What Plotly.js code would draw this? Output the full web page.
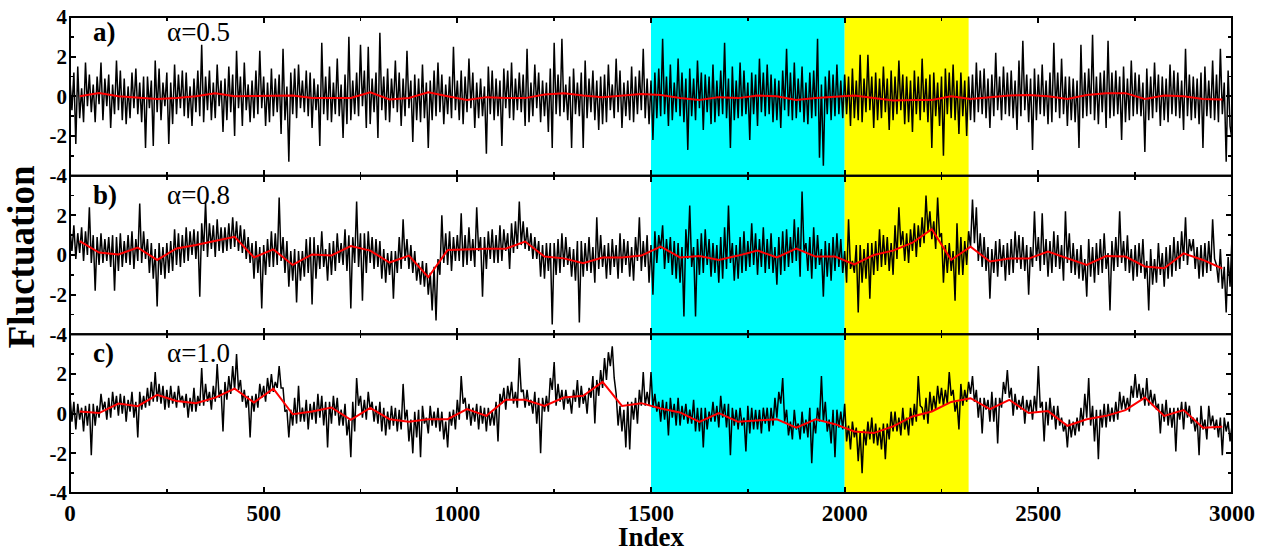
<!DOCTYPE html>
<html>
<head>
<meta charset="utf-8">
<script src="https://cdn.plot.ly/plotly-3.0.1.min.js"></script>
<style>html,body{margin:0;padding:0;background:#fff;}#chart{width:1269px;height:550px;}</style>
</head>
<body>
<div id="chart"></div>
<script>
// sampling step of the fluctuation series (index units)
const STEP = 5;
// spacing / first centre of the running-mean (red) curve
const MEAN_STEP = 50;
const MEAN_START = 25;

// panel a) alpha = 0.5 : one value per STEP, 20 values per row = 100 index units
const seriesA = [
 0.8,-0.7,1.2,-2.4,1.5,-1.1,0.4,-1.3,1.7,-0.5,1.1,-0.8,0.6,-1.3,1.0,-0.4,1.7,-1.2,0.9,-0.5,
 1.1,-1.6,0.6,-0.9,1.8,-0.7,1.3,-1.2,0.9,-1.4,0.5,-1.1,1.2,-0.6,1.4,-0.9,0.7,-1.3,1.0,-2.6,
 1.0,-0.6,0.8,-2.5,1.8,-0.8,1.4,-1.2,0.7,-0.5,1.2,-2.4,0.7,-1.4,1.6,-0.9,1.1,-0.6,1.3,-1.0,
 1.2,-1.1,0.5,-1.5,0.9,-0.8,1.3,-1.0,2.6,-1.3,1.0,-0.7,1.3,-1.2,0.7,-1.1,1.6,-0.5,0.8,-1.8,
 0.9,-1.2,1.5,-0.8,1.1,-2.0,2.3,-0.6,1.0,-1.5,1.7,-0.7,0.6,-1.3,0.8,-1.1,1.3,-0.9,2.3,-0.6,
 1.0,-1.5,0.7,-1.3,1.4,-1.0,0.9,-0.8,1.1,-1.9,2.4,-1.2,0.5,-3.3,1.2,-0.9,1.4,-1.1,1.6,-0.6,
 0.8,-0.8,1.3,-1.0,1.2,-1.6,0.9,-0.7,0.6,-2.5,2.7,-0.9,1.0,-1.2,1.5,-1.3,0.7,-0.9,1.9,-1.0,
 0.6,-2.1,1.1,-1.4,3.0,-1.2,0.8,-0.9,1.2,-1.0,2.6,-0.5,1.3,-1.6,2.5,-1.4,0.9,-0.8,1.2,-2.1,
 3.2,-0.7,1.0,-1.2,1.4,-1.3,0.9,-0.6,1.8,-0.8,1.2,-1.5,0.9,-1.0,2.3,-0.6,0.8,-2.3,1.1,-1.2,
 0.9,-1.3,1.6,-1.1,0.7,-2.6,0.8,-1.2,1.3,-1.0,1.7,-0.8,1.1,-1.4,0.6,-0.9,1.0,-1.1,2.5,-0.7,
 0.8,-1.2,1.3,-1.4,1.0,-0.8,1.9,-0.6,1.2,-1.6,0.7,-1.1,0.9,-1.0,0.5,-2.9,1.5,-0.9,1.3,-1.2,
 0.9,-1.0,0.8,-2.5,1.4,-0.6,1.3,-1.1,1.7,-1.2,0.9,-0.7,1.2,-0.8,1.1,-1.5,2.4,-1.3,0.7,-1.0,
 1.6,-0.6,1.2,-1.3,0.8,-1.0,0.7,-1.8,1.4,-2.6,2.7,-0.9,1.1,-1.0,2.9,-0.8,0.6,-1.2,1.0,-2.6,
 1.4,-0.9,0.7,-1.0,1.2,-2.6,1.8,-1.1,0.9,-0.8,1.3,-1.2,0.8,-1.7,1.0,-1.4,1.1,-1.3,1.6,-0.7,
 0.6,-1.1,1.9,-0.8,1.3,-1.6,0.7,-1.0,0.8,-1.2,1.5,-1.3,1.0,-0.9,1.3,-0.7,2.4,-1.1,0.9,-1.4,
 0.8,-2.2,1.2,-1.1,1.4,-1.0,2.9,-0.9,1.0,-1.5,1.6,-1.2,0.7,-0.8,1.9,-1.0,1.2,-1.3,0.9,-2.7,
 1.4,-1.0,0.9,-1.2,1.8,-0.6,1.2,-1.7,1.1,-0.8,1.0,-1.4,1.6,-1.3,0.8,-1.0,1.3,-0.9,2.7,-1.1,
 0.9,-2.6,1.5,-1.2,0.8,-1.1,1.7,-1.0,1.3,-0.9,0.7,-2.2,1.2,-0.9,1.1,-1.5,1.9,-0.8,1.2,-1.0,
 1.6,-0.9,1.1,-1.3,0.9,-1.2,0.8,-1.6,1.3,-0.7,2.4,-1.0,1.2,-1.2,1.7,-1.1,0.9,-0.8,1.5,-1.3,
 0.7,-1.4,1.2,-1.1,1.3,-1.0,2.9,-3.1,0.6,-3.5,1.0,-0.9,1.3,-1.2,1.1,-1.0,1.6,-0.9,0.8,-1.1,
 1.1,-0.9,1.0,-1.5,1.4,-1.1,0.8,-1.2,2.1,-1.3,0.9,-0.8,2.1,-0.7,1.0,-1.6,1.2,-1.2,0.9,-1.1,
 1.5,-0.8,0.9,-1.7,1.3,-1.2,1.0,-0.9,1.8,-0.7,1.1,-1.4,1.0,-1.3,0.8,-1.8,1.3,-0.9,1.0,-1.2,
 1.9,-0.8,0.9,-1.3,1.1,-2.6,1.2,-1.0,0.7,-1.5,1.0,-3.0,1.4,-0.9,1.2,-1.1,1.6,-1.2,0.8,-1.9,
 1.2,-1.0,0.8,-2.0,1.0,-1.2,1.1,-1.3,1.7,-0.8,1.3,-0.9,1.4,-1.1,0.9,-1.6,1.1,-1.0,2.2,-0.7,
 1.0,-1.2,1.5,-0.9,1.2,-1.0,1.3,-1.1,0.8,-1.7,1.8,-1.0,2.8,-0.7,1.1,-1.3,0.9,-2.7,1.4,-1.2,
 1.1,-0.9,1.6,-1.0,0.8,-1.4,1.2,-1.3,2.7,-0.8,1.2,-1.1,1.9,-0.9,1.0,-1.5,1.0,-1.2,0.9,-1.3,
 0.8,-2.6,2.6,-1.1,1.2,-1.0,1.4,-0.9,3.1,-1.2,1.0,-1.4,1.2,-0.8,1.3,-1.6,2.8,-1.1,1.2,-1.0,
 1.3,-0.9,1.0,-2.2,1.5,-1.3,0.9,-1.2,1.8,-1.0,1.2,-0.9,1.1,-1.0,0.7,-2.8,1.4,-1.2,1.0,-1.1,
 1.7,-0.8,1.1,-1.5,1.0,-1.2,0.9,-1.3,1.6,-0.9,1.3,-1.0,1.2,-1.1,0.8,-1.7,2.4,-1.0,1.1,-1.2,
 1.0,-1.1,0.9,-1.4,1.2,-2.6,1.5,-1.0,0.8,-1.1,1.8,-1.2,1.1,-1.3,2.4,-0.9,0.7,-3.3,1.3,-1.5,
 -2.2
];
// panel b) alpha = 0.8
const seriesB = [
 1.3,0.2,1.5,-0.2,1.1,0.1,1.4,-0.3,1.2,0.0,2.4,-0.4,1.0,-1.8,0.9,-0.5,1.1,-0.4,0.8,-0.3,
 0.9,-0.6,1.0,-1.8,0.9,-0.8,1.1,-0.6,0.7,-0.4,1.0,-0.5,1.2,-0.7,0.8,-0.3,2.6,-0.4,1.2,-0.2,
 0.8,-0.9,0.6,-1.2,0.3,-2.6,0.6,-1.0,0.4,-1.2,0.6,-0.9,0.7,-0.8,1.3,-0.5,1.1,-0.6,1.0,-0.4,
 1.4,-0.3,1.2,0.0,1.3,-0.2,1.2,-2.1,1.6,0.2,2.7,-0.1,1.6,0.3,1.5,-0.1,1.8,0.2,1.4,0.1,
 1.4,0.2,1.6,0.3,1.9,0.4,1.7,0.2,1.5,0.1,1.3,-0.2,0.9,-0.4,0.6,-1.2,0.7,-0.9,0.4,-2.7,
 0.5,-1.0,0.8,-0.6,1.2,-0.6,1.1,-0.5,2.9,-0.3,0.9,-0.9,0.7,-1.6,0.2,-1.3,0.3,-2.4,0.2,-1.3,
 0.2,-1.1,0.8,-0.9,0.9,-2.5,0.9,-1.2,0.5,-0.7,1.2,-0.6,0.3,-1.3,0.6,-1.0,0.7,-0.8,1.1,-0.4,
 0.6,-0.5,1.3,-0.8,1.0,-2.7,0.9,-0.4,2.7,-0.6,1.1,-2.3,1.1,-0.9,1.2,-0.4,0.9,-0.7,0.8,-0.6,
 0.7,-1.2,0.3,-1.4,0.1,-1.0,0.2,-2.2,0.2,-0.9,0.9,-0.7,1.8,-0.3,0.8,-0.7,0.5,-0.9,0.2,-1.3,
 -0.4,-1.5,-0.3,-1.6,-0.4,-2.0,-0.9,-2.8,-0.6,-3.3,-0.2,-1.0,2.0,-0.4,1.1,-0.5,1.2,-0.8,0.9,-0.3,
 1.0,-0.3,2.1,-0.6,1.0,-0.5,1.4,-0.3,0.8,-0.6,2.4,0.2,0.9,-2.1,0.9,-0.7,1.2,-0.2,1.3,-0.4,
 1.0,-0.4,1.5,-0.3,1.3,0.2,1.1,-0.7,1.6,0.1,1.7,0.3,2.7,0.5,1.7,0.3,1.4,0.2,1.1,-0.2,
 0.9,-0.2,0.7,-1.1,0.5,-1.2,0.6,-0.8,0.6,-3.5,0.6,-1.0,0.8,-0.9,1.1,-0.6,0.9,-0.5,0.4,-1.1,
 0.3,-1.3,0.7,-3.4,0.7,-1.1,0.6,-0.8,0.9,-0.9,0.4,-1.4,1.9,-0.7,1.0,-0.6,0.5,-1.2,0.6,-1.0,
 0.8,-0.6,0.5,-1.2,1.1,-0.9,0.8,-0.5,0.7,-1.1,0.4,-1.3,0.9,-0.3,1.9,-0.8,0.7,-0.6,1.0,-1.4,
 0.5,-2.0,1.2,-0.4,1.0,0.3,1.5,-0.7,0.8,-0.4,0.9,-1.0,0.7,-1.2,0.6,-1.4,0.4,-3.1,1.3,-0.2,
 2.5,-0.6,0.4,-3.1,0.8,-1.0,1.1,-0.9,1.3,-0.5,0.8,-1.1,0.6,-0.9,0.5,-1.4,0.9,-1.2,1.4,-0.7,
 2.5,-0.4,0.6,-1.3,0.5,-1.2,0.9,-0.9,1.2,-0.8,0.7,-0.6,1.6,-0.5,1.1,-1.0,0.8,-0.6,1.4,-0.9,
 0.8,-0.7,1.1,-0.9,0.4,-1.5,0.9,-1.0,1.2,-0.8,1.3,-0.6,0.9,-0.4,1.8,-0.3,1.4,-1.1,3.2,0.2,
 0.6,-0.8,0.9,-1.2,1.4,-0.7,1.0,-0.5,0.3,-2.1,0.7,-1.1,0.6,-1.3,0.9,-0.8,1.1,-0.6,0.8,-0.9,
 0.2,-1.4,1.8,-0.7,-0.3,-0.9,0.5,-2.9,0.5,-1.4,0.3,-1.2,0.6,-2.2,0.6,-1.0,0.7,-0.8,1.3,-0.6,
 1.0,-0.5,0.9,-0.8,0.6,-1.0,1.5,-0.2,2.4,0.5,1.2,-0.3,1.1,-0.4,1.3,0.2,1.6,-0.1,1.5,0.4,
 1.9,0.6,3.0,1.2,2.2,0.8,1.7,0.3,2.9,0.9,1.1,-1.4,0.5,-0.9,0.6,-0.8,0.2,-2.3,1.6,-1.0,
 0.9,-1.0,0.7,-0.5,1.2,0.4,2.8,0.6,2.4,-0.3,1.1,-0.6,0.9,-0.8,0.4,-2.2,0.3,-0.9,0.7,-1.1,
 0.8,-0.6,0.5,-1.3,0.6,-1.0,0.8,-0.9,1.2,-0.4,1.0,-0.7,0.9,-0.8,0.5,-2.0,0.4,-0.6,2.2,-0.3,
 0.9,-0.8,2.1,-0.5,0.8,-1.1,0.7,-0.9,1.2,-0.6,1.0,-0.7,0.5,-1.3,2.2,-0.4,1.1,-0.9,0.6,-1.0,
 0.3,-1.2,0.5,-1.3,-0.2,-2.1,0.8,-1.1,0.4,-1.4,0.6,-1.0,0.8,-0.9,1.1,-0.7,0.1,-2.8,0.7,-0.8,
 0.9,-0.6,2.2,-0.4,0.7,-0.8,1.0,-0.9,0.3,-1.3,0.5,-1.1,0.6,-0.9,0.8,-1.2,-0.3,-2.8,0.3,-1.5,
 -0.2,-1.4,0.6,-1.0,0.1,-1.6,0.4,-1.2,0.5,-1.1,0.9,-0.8,0.7,-0.7,1.2,-0.3,1.9,-0.5,0.8,0.2,
 0.8,-0.7,0.4,-1.2,0.5,-1.1,0.6,-0.9,0.7,-0.8,1.8,-0.2,-0.5,-1.4,0.3,-1.7,-0.6,-2.9,-0.1,-1.6,
 0.9
];
// panel c) alpha = 1.0
const seriesC = [
 0.9,-0.4,0.6,-0.8,0.5,-0.3,0.3,-0.9,0.4,-0.6,0.5,-2.1,0.5,-0.6,0.4,-0.2,1.0,0.2,0.6,-0.3,
 0.8,-0.2,1.1,0.2,0.9,-0.1,1.0,0.0,0.9,-0.4,0.7,0.1,1.1,-0.2,0.6,-1.2,1.1,0.2,0.9,0.3,
 1.3,0.4,1.6,0.6,2.1,0.6,1.5,0.5,1.4,0.2,1.2,0.3,1.4,0.5,1.1,0.3,1.4,0.6,0.9,0.3,
 1.0,-0.2,0.8,0.1,1.3,0.1,0.9,0.4,2.3,0.4,1.5,0.6,1.1,0.2,1.4,0.6,2.5,0.8,1.2,-0.9,
 1.6,0.7,1.9,1.0,2.4,1.2,3.0,1.2,1.7,0.6,1.2,0.3,0.9,-1.2,0.9,0.1,1.0,0.3,1.5,0.8,
 1.4,0.6,1.8,1.0,2.0,1.1,1.6,1.3,2.4,1.3,1.3,0.1,0.2,-1.2,0.2,-0.6,0.8,-0.5,1.4,-0.4,
 0.3,-0.4,0.7,-0.8,0.5,-0.3,0.6,-0.5,1.0,-0.2,0.9,-0.6,0.6,-1.7,0.6,-0.5,0.9,-0.1,0.8,-0.6,
 0.2,-0.6,0.5,-1.1,-0.3,-2.2,0.6,-0.9,1.8,0.4,0.9,-0.2,0.7,-0.3,1.1,0.2,0.6,-0.4,0.4,-0.5,
 0.6,-0.9,0.3,-1.1,0.1,-0.8,0.4,-0.6,0.3,-0.9,0.2,-0.8,1.5,-0.3,0.2,-1.4,-0.3,-2.0,0.1,-1.2,
 0.2,-2.2,0.4,-0.5,-0.2,-1.0,0.4,-0.6,0.1,-0.7,0.3,-0.9,0.1,-1.3,-0.4,-1.7,0.1,-0.6,0.2,-0.8,
 0.7,-0.3,1.9,0.5,0.8,-0.3,0.5,-0.6,0.3,-0.4,0.5,-0.8,0.4,-0.5,0.3,-0.9,0.3,-0.6,0.1,-0.6,
 0.6,-1.4,1.0,0.5,1.3,0.2,1.4,0.7,1.6,0.5,1.1,0.3,2.8,1.1,1.2,0.3,1.2,0.4,0.7,0.0,
 1.1,-0.5,0.8,-2.0,0.8,0.1,0.9,0.1,1.8,1.2,2.6,0.4,1.5,0.6,1.2,0.2,1.2,0.5,0.8,0.0,
 1.2,0.6,1.7,0.3,1.4,0.5,1.0,0.0,1.3,0.8,1.9,-0.5,1.7,0.9,2.2,1.3,2.8,1.7,3.1,2.4,
 3.4,1.8,1.0,-0.6,0.4,-0.9,0.2,-1.7,0.6,-1.8,0.6,-0.3,0.8,-0.5,1.2,0.4,2.1,0.4,1.1,0.4,
 2.1,0.3,1.0,0.1,0.6,-0.4,0.7,-0.3,0.6,-1.1,0.8,-0.2,0.5,-0.6,0.8,-0.6,0.4,-0.3,0.5,-0.5,
 0.2,-0.5,0.7,-0.9,0.3,-0.9,0.3,-1.7,0.3,-0.8,0.1,-0.4,0.6,-0.4,0.4,-0.7,0.9,-0.2,0.5,-0.7,
 0.5,-2.1,0.3,-0.6,0.2,-0.8,0.3,-0.6,-0.2,-1.9,0.4,-1.0,0.3,-0.8,0.2,-0.8,0.2,-1.0,0.3,-0.5,
 0.3,-0.9,0.3,-0.6,0.8,-0.2,1.1,0.5,1.8,-0.4,0.2,-1.1,-0.4,-1.3,0.2,-0.8,-0.5,-1.3,0.1,-1.0,
 -0.3,-1.2,0.3,-2.5,-0.3,-1.0,0.3,-0.4,1.9,-0.4,0.6,-0.9,-0.3,-1.5,0.2,-2.2,0.2,-0.7,0.1,-0.8,
 0.5,-1.4,-0.6,-1.8,-0.4,-1.2,-0.7,-2.4,-0.9,-3.0,-0.8,-1.6,-0.4,-1.3,-0.2,-1.5,-0.5,-1.6,-0.7,-1.8,
 -0.5,-2.3,-0.5,-1.3,0.1,-0.9,0.1,-0.9,-0.2,-1.1,0.3,-0.8,-0.2,-1.1,0.3,-0.6,0.5,-0.4,1.9,0.4,
 0.3,-0.3,0.8,-0.5,1.1,0.1,0.9,0.2,1.4,0.5,1.3,0.4,1.2,0.5,2.1,0.9,1.2,0.1,0.6,-0.8,
 1.5,0.4,1.2,0.6,1.6,1.0,1.9,0.6,1.2,-0.2,0.8,-1.0,0.8,0.2,0.7,-0.4,1.1,-0.4,0.8,-1.5,
 0.8,0.3,1.6,1.0,2.2,0.8,1.3,-0.1,1.0,0.2,0.7,0.2,0.9,-0.5,0.7,0.1,0.7,-0.3,0.9,0.1,
 2.4,0.3,0.6,-1.4,0.6,-0.6,0.8,-0.3,0.4,-0.8,0.4,-0.6,-0.2,-0.9,-0.5,-1.7,-0.3,-1.2,-0.4,-1.1,
 -0.2,-0.9,0.3,-0.6,1.0,-0.2,1.8,-0.6,0.4,-1.4,0.2,-2.3,0.2,-0.7,0.5,-0.7,0.5,-0.4,0.3,-0.4,
 0.6,-0.3,1.1,0.2,0.9,0.2,0.8,0.1,1.4,0.8,2.0,0.8,1.5,0.7,1.3,0.4,1.8,0.4,1.2,0.4,
 1.0,0.2,0.5,-1.0,0.5,-0.4,0.7,-0.6,0.3,-0.7,0.3,-1.9,0.3,-0.3,0.6,-0.8,0.6,-0.2,0.4,-0.5,
 -0.2,-0.9,-0.2,-2.1,0.4,-0.8,-0.3,-1.3,0.4,-0.6,-0.1,-0.8,-0.3,-1.2,-0.2,-2.1,-0.2,-0.9,-0.4,-1.4,
 -0.6
];

// running means (red curves), one value per MEAN_STEP
const meanA = [
 0,0.17,0,-0.08,-0.13,-0.08,0,0.16,0.01,0.02,0.02,0.04,-0.08,-0.08,-0.08,
 0.2,-0.16,-0.08,0.2,0,-0.18,-0.04,-0.09,-0.09,0.09,0.16,0.04,-0.04,0.04,0.12,
 0.07,-0.08,-0.18,-0.04,-0.09,0.04,0,-0.18,-0.09,-0.04,0.04,-0.08,-0.21,-0.18,-0.18,0,
 -0.13,-0.04,0.04,0.07,0,-0.13,0.07,0.16,0.16,-0.13,0.04,0,-0.13,-0.16
];
const meanB = [
 0.70,0.12,0.03,0.37,-0.25,0.33,0.5,0.70,0.92,-0.12,0.28,-0.5,0.03,-0.02,0.45,
 0.22,-0.38,-0.03,-1.12,0.25,0.3,0.32,0.32,0.68,-0.08,-0.17,-0.42,-0.13,-0.12,-0.03,
 0.42,-0.12,-0.05,-0.25,-0.03,0.22,-0.12,0.32,-0.08,-0.08,-0.48,0,0.22,0.62,1.3,-0.25,
 0.42,-0.33,-0.18,-0.18,0.17,-0.17,-0.5,-0.05,-0.08,-0.58,-0.67,0.08,-0.25,-0.68
];
const meanC = [
 0.11,0.03,0.51,0.38,0.95,0.64,0.53,0.81,1.26,0.56,1.26,-0.03,0.11,0.31,-0.31,
 0.29,-0.28,-0.41,-0.28,-0.28,0.23,-0.11,0.7,0.7,0.39,0.81,0.9,1.6,0.39,0.53,
 0.26,0.06,-0.41,0.03,-0.41,-0.33,-0.28,-0.7,-0.28,-0.53,-0.9,-0.98,-0.64,-0.14,0.11,0.59,
 0.78,0.23,0.7,0.03,0.13,-0.61,-0.28,-0.11,0.18,0.81,-0.11,0.18,-0.71,-0.66
];

const panelLabels = ['a)', 'b)', 'c)'];
const alphaLabels = ['\u03b1=0.5', '\u03b1=0.8', '\u03b1=1.0'];
const xTitle = 'Index';
const yTitle = 'Fluctuation';
const xTickVals = [0, 500, 1000, 1500, 2000, 2500, 3000];
const xTickText = ['0', '500', '1000', '1500', '2000', '2500', '3000'];
const yTickValsTop = [-4, -2, 0, 2, 4];
const yTickTextTop = ['-4', '-2', '0', '2', '4'];
const yTickValsLow = [-4, -2, 0, 2];
const yTickTextLow = ['-4', '-2', '0', '2'];
// highlighted index ranges
const bandCyan = [1500, 2000];
const bandYellow = [2000, 2320];

const idxRaw = seriesA.map((_, i) => i * STEP);
const idxMean = meanA.map((_, k) => MEAN_START + k * MEAN_STEP);

const FONT = '"Liberation Serif", "Times New Roman", serif';

// panel order top->bottom: a (x3,y3), b (x2,y2), c (x,y)
const panels = [
  {raw: seriesA, mean: meanA, xa: 'x3', ya: 'y3'},
  {raw: seriesB, mean: meanB, xa: 'x2', ya: 'y2'},
  {raw: seriesC, mean: meanC, xa: 'x', ya: 'y'}
];
const traces = [];
panels.forEach(p => {
  traces.push({x: idxRaw, y: p.raw, xaxis: p.xa, yaxis: p.ya, type: 'scatter', mode: 'lines',
    line: {color: '#000000', width: 1.5}, hoverinfo: 'skip', showlegend: false});
});
panels.forEach(p => {
  traces.push({x: idxMean, y: p.mean, xaxis: p.xa, yaxis: p.ya, type: 'scatter', mode: 'lines',
    line: {color: '#ff0000', width: 2}, hoverinfo: 'skip', showlegend: false});
});

function xAxis(anchor, labels) {
  return {
    anchor: anchor, domain: [0, 1], range: [0, 3000],
    tickmode: 'array', tickvals: xTickVals, ticktext: xTickText, showticklabels: labels,
    ticks: 'inside', ticklen: 6, tickwidth: 2, tickcolor: '#000', ticklabelstandoff: 4,
    minor: {ticks: 'inside', dtick: 250, tick0: 0, ticklen: 4, tickwidth: 1.5, tickcolor: '#000', showgrid: false},
    showline: false, mirror: 'ticks',
    showgrid: false, zeroline: false,
    tickfont: {family: FONT, size: 23, color: '#000', weight: 'bold'}
  };
}
function yAxis(anchor, domain, top) {
  return {
    anchor: anchor, domain: domain, range: [-4, 4],
    tickmode: 'array', tickvals: top ? yTickValsTop : yTickValsLow, ticktext: top ? yTickTextTop : yTickTextLow,
    ticks: 'inside', ticklen: 6, tickwidth: 2, tickcolor: '#000', ticklabelstandoff: 2,
    minor: {ticks: 'inside', dtick: 1, tick0: 0, ticklen: 4, tickwidth: 1.5, tickcolor: '#000', showgrid: false},
    showline: false, mirror: 'ticks',
    showgrid: false, zeroline: false,
    tickfont: {family: FONT, size: 21, color: '#000', weight: 'bold'}
  };
}

const domC = [0, 1/3], domB = [1/3, 2/3], domA = [2/3, 1];
const xa = xAxis('y', true);
const x2 = xAxis('y2', false); x2.matches = 'x';
const x3 = xAxis('y3', false); x3.matches = 'x';
const ya = yAxis('x', domC, false);
const y2 = yAxis('x2', domB, false);
const y3 = yAxis('x3', domA, true);

const annotations = [];
const labY = [0.968, 0.627, 0.294];
panelLabels.forEach((t, i) => {
  annotations.push({text: t, xref: 'paper', yref: 'paper', x: 0.018, y: labY[i], xanchor: 'left', yanchor: 'middle',
    showarrow: false, font: {family: FONT, size: 27, color: '#000', weight: 'bold'}});
  annotations.push({text: alphaLabels[i], xref: 'paper', yref: 'paper', x: 0.082, y: labY[i], xanchor: 'left', yanchor: 'middle',
    showarrow: false, font: {family: FONT, size: 27, color: '#000'}});
});
annotations.push({text: xTitle, xref: 'paper', yref: 'paper', x: 0.5, y: -0.093, xanchor: 'center', yanchor: 'middle',
  showarrow: false, font: {family: FONT, size: 27, color: '#000', weight: 'bold'}});
annotations.push({text: yTitle, xref: 'paper', yref: 'paper', x: -0.041, y: 0.496, xanchor: 'center', yanchor: 'middle',
  textangle: -90, showarrow: false, font: {family: FONT, size: 37, color: '#000', weight: 'bold'}});

const shapes = [
  {type: 'rect', xref: 'x', yref: 'paper', x0: bandCyan[0], x1: bandCyan[1], y0: 0, y1: 1,
    fillcolor: '#00ffff', line: {width: 0}, layer: 'below'},
  {type: 'rect', xref: 'x', yref: 'paper', x0: bandYellow[0], x1: bandYellow[1], y0: 0, y1: 1,
    fillcolor: '#ffff00', line: {width: 0}, layer: 'below'}
];
// panel frames
[domA, domB, domC].forEach(d => {
  shapes.push({type: 'rect', xref: 'paper', yref: 'paper', x0: 0, x1: 1, y0: d[0], y1: d[1],
    fillcolor: 'rgba(0,0,0,0)', line: {color: '#000', width: 2}, layer: 'above'});
});

const layout = {
  width: 1269, height: 550,
  margin: {l: 70, r: 37, t: 17, b: 57},
  paper_bgcolor: '#ffffff', plot_bgcolor: 'rgba(0,0,0,0)',
  showlegend: false,
  xaxis: xa, xaxis2: x2, xaxis3: x3,
  yaxis: ya, yaxis2: y2, yaxis3: y3,
  annotations: annotations, shapes: shapes,
  font: {family: FONT, color: '#000'}
};

Plotly.newPlot('chart', traces, layout, {displayModeBar: false, staticPlot: true});
</script>
</body>
</html>
